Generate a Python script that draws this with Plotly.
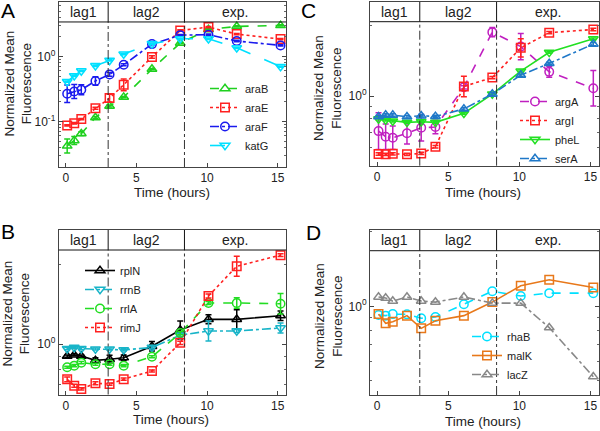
import numpy as np
import plotly.graph_objects as go

FONT = "Liberation Sans, Arial, Helvetica, sans-serif"
TXT = "#222222"

# ---------------- data ----------------
time_h = [0.1, 0.6, 1.1, 2.1, 3.1, 4.1, 6.1, 8.1, 10.1, 12.1, 15.2]
phase_bounds = [3.0, 8.4]
phase_labels = ["lag1", "lag2", "exp."]
phase_label_pos = [1.25, 5.7, 12.0]

# Panel A
araB = [0.042, 0.051, 0.065, 0.115, 0.173, 0.237, 0.64, 1.61, 2.6, 2.9, 3.0]
araE = [0.087, 0.094, 0.109, 0.16, 0.229, 0.367, 0.98, 2.51, 2.83, 2.21, 1.85]
araF = [0.267, 0.29, 0.307, 0.42, 0.53, 0.745, 1.55, 2.13, 2.16, 1.73, 1.48]
katG = [0.41, 0.505, 0.6, 0.72, 0.87, 1.09, 1.57, 1.87, 1.87, 1.36, 0.70]
araB_err = [0.108, 0.06, 0.03, 0.015, 0.015, 0.01, 0.01, 0.01, 0.01, 0.01, 0.01]
araE_err = [0.01, 0.01, 0.01, 0.015, 0.06, 0.09, 0.02, 0.01, 0.01, 0.01, 0.01]
araF_err = [0.135, 0.108, 0.077, 0.066, 0.03, 0.015, 0.01, 0.01, 0.01, 0.01, 0.01]
katG_err = [0.01, 0.01, 0.01, 0.01, 0.01, 0.01, 0.01, 0.01, 0.01, 0.01, 0.01]

# Panel B
rplN = [0.90, 0.91, 0.90, 0.867, 0.875, 0.887, 0.98, 1.13, 1.24, 1.24, 1.28]
rrnB = [0.96, 0.97, 0.96, 0.957, 0.957, 0.95, 0.97, 1.08, 1.12, 1.12, 1.15]
rrlA = [0.816, 0.828, 0.85, 0.838, 0.838, 0.828, 0.895, 1.10, 1.43, 1.43, 1.42]
rimJ = [0.735, 0.695, 0.676, 0.71, 0.705, 0.736, 0.79, 1.01, 1.52, 1.97, 2.17]
rplN_err = [0.004, 0.004, 0.004, 0.01, 0.015, 0.01, 0.018, 0.034, 0.017, 0.036, 0.018]
rrnB_err = [0.004, 0.004, 0.004, 0.004, 0.004, 0.004, 0.006, 0.006, 0.038, 0.006, 0.019]
rrlA_err = [0.004, 0.004, 0.004, 0.004, 0.004, 0.004, 0.004, 0.006, 0.006, 0.02, 0.039]
rimJ_err = [0.009, 0.006, 0.004, 0.006, 0.004, 0.004, 0.004, 0.006, 0.008, 0.038, 0.005]

# Panel C
argA = [0.707, 0.669, 0.662, 0.692, 0.731, 0.736, 1.09, 1.88, 1.63, 1.27, 1.08]
argI = [0.564, 0.562, 0.565, 0.562, 0.567, 0.606, 1.10, 1.20, 1.61, 1.87, 1.93]
pheL = [0.797, 0.789, 0.781, 0.771, 0.776, 0.771, 0.843, 1.02, 1.28, 1.54, 1.76]
serA = [0.815, 0.829, 0.829, 0.815, 0.823, 0.818, 0.88, 1.02, 1.23, 1.38, 1.67]
argA_err = [0.079, 0.055, 0.05, 0.046, 0.057, 0.029, 0.007, 0.02, 0.056, 0.023, 0.076]
argI_err = [0.005, 0.005, 0.005, 0.005, 0.005, 0.005, 0.044, 0.005, 0.039, 0.005, 0.005]
pheL_err = [0.004, 0.004, 0.004, 0.004, 0.004, 0.004, 0.004, 0.004, 0.004, 0.004, 0.004]
serA_err = [0.005, 0.005, 0.005, 0.005, 0.005, 0.005, 0.005, 0.005, 0.005, 0.005, 0.007]

# Panel D
rhaB = [0.923, 0.917, 0.93, 0.928, 0.895, 0.905, 1.02, 1.15, 1.10, 1.13, 1.13]
malK = [0.93, 0.854, 0.867, 0.917, 0.815, 0.875, 0.917, 1.04, 1.21, 1.28, 1.19]
lacZ = [1.09, 1.08, 1.05, 1.09, 1.05, 1.04, 1.09, 1.03, 1.03, 0.82, 0.52]

W, H = 600, 431


def px(x):
    return x / W


def py(y):
    return 1 - y / H


# panel geometry (window pixels) and axis ranges
panels = {
    "A": dict(ax="", xd=(58.7, 286.2), yd=(2, 167), yr=(-1.70, 0.838), hf=0.879,
              yt=[0.1, 1], ytt=["10<sup>-1</sup>", "10<sup>0</sup>"],
              letter=(8, 10), ytitle=(17.5, 84), xtitle=(172, 193),
              legend="legend", leg=(205, 74)),
    "C": dict(ax="2", xd=(370, 599), yd=(2, 165.7), yr=(-0.299, 0.4036), hf=0.8797,
              yt=[1], ytt=["10<sup>0</sup>"],
              letter=(308, 10), ytitle=(327, 88), xtitle=(482.5, 193),
              legend="legend2", leg=(515, 87)),
    "B": dict(ax="3", xd=(58.7, 286.2), yd=(230, 394.5), yr=(-0.1913, 0.4318), hf=0.8784,
              yt=[1], ytt=["10<sup>0</sup>"],
              letter=(8, 231), ytitle=(15.5, 314), xtitle=(171, 419),
              legend="legend3", leg=(80, 256)),
    "D": dict(ax="4", xd=(370, 599), yd=(230, 395), yr=(-0.3577, 0.3077), hf=0.8745,
              yt=[1], ytt=["10<sup>0</sup>"],
              letter=(313.7, 232), ytitle=(328, 316), xtitle=(482.5, 421),
              legend="legend4", leg=(467, 322)),
}

series = {
    "A": [
        ("araB", araB, araB_err, "#1fd01f", "dash", "triangle-up-open"),
        ("araE", araE, araE_err, "#ff2020", "dot", "square-open"),
        ("araF", araF, araF_err, "#1a1aee", "dashdot", "circle-open"),
        ("katG", katG, katG_err, "#00e0ff", "longdash", "triangle-down-open"),
    ],
    "B": [
        ("rplN", rplN, rplN_err, "#000000", "solid", "triangle-up-open"),
        ("rrnB", rrnB, rrnB_err, "#18b4c8", "dashdot", "triangle-down-open"),
        ("rrlA", rrlA, rrlA_err, "#22dd22", "dash", "circle-open"),
        ("rimJ", rimJ, rimJ_err, "#ff2020", "dot", "square-open"),
    ],
    "C": [
        ("argA", argA, argA_err, "#c020c0", "dash", "circle-open"),
        ("argI", argI, argI_err, "#ff2020", "dot", "square-open"),
        ("pheL", pheL, pheL_err, "#22e022", "solid", "triangle-down-open"),
        ("serA", serA, serA_err, "#1f78c8", "dashdot", "triangle-up-open"),
    ],
    "D": [
        ("rhaB", rhaB, None, "#00e0ff", "dash", "circle-open"),
        ("malK", malK, None, "#e8781a", "solid", "square-open"),
        ("lacZ", lacZ, None, "#888888", "dashdot", "triangle-up-open"),
    ],
}

fig = go.Figure()
layout = dict(width=W, height=H, margin=dict(l=0, r=0, t=0, b=0),
              paper_bgcolor="white", plot_bgcolor="white",
              font=dict(family=FONT, color=TXT, size=12), showlegend=True)
shapes = []
annotations = []

minor_vals = [v * 10.0 ** e for e in (-2, -1, 0) for v in range(2, 10)]

for key, p in panels.items():
    ax = p["ax"]
    xname, yname = "x" + ax, "y" + ax
    for name, vals, err, col, dash, sym in series[key]:
        ekw = {}
        if err is not None:
            ya = np.array(vals)
            ea = np.array(err)
            ekw = dict(error_y=dict(type="data", symmetric=False,
                                    array=ya * (10 ** ea - 1),
                                    arrayminus=ya * (1 - 10 ** (-ea)),
                                    color=col, thickness=1.5, width=3))
        fig.add_trace(go.Scatter(
            x=time_h, y=vals, name=name, mode="lines+markers",
            xaxis=xname, yaxis=yname, legend=p["legend"],
            line=dict(color=col, width=1.6, dash=dash),
            marker=dict(symbol=sym, size=8.5, color=col, line=dict(width=1.5, color=col)),
            **ekw))

    layout["xaxis" + ax] = dict(
        domain=[px(p["xd"][0]), px(p["xd"][1])], anchor=yname,
        range=[-0.5, 15.6], tickvals=[0, 5, 10, 15], ticks="inside", ticklen=4,
        tickcolor="#444", showline=True, linecolor="#444", linewidth=1, mirror=True,
        showgrid=False, zeroline=False, tickfont=dict(size=12, family=FONT, color=TXT))
    layout["yaxis" + ax] = dict(
        domain=[py(p["yd"][1]), py(p["yd"][0])], anchor=xname, type="log",
        range=list(p["yr"]), tickvals=p["yt"], ticktext=p["ytt"], ticks="inside",
        ticklen=4, tickcolor="#444", showline=True, linecolor="#444", linewidth=1,
        mirror="ticks", showgrid=False, zeroline=False,
        tickfont=dict(size=12, family=FONT, color=TXT),
        minor=dict(tickvals=minor_vals, ticks="inside", ticklen=2, tickcolor="#666"))

    hf = p["hf"]
    shapes.append(dict(type="line", xref=xname + " domain", yref=yname + " domain",
                       x0=0, x1=1, y0=hf, y1=hf, line=dict(color="#111", width=1)))
    for xb in phase_bounds:
        shapes.append(dict(type="line", xref=xname, yref=yname + " domain",
                           x0=xb, x1=xb, y0=hf, y1=1, line=dict(color="#111", width=1)))
        shapes.append(dict(type="line", xref=xname, yref=yname + " domain",
                           x0=xb, x1=xb, y0=0, y1=hf,
                           line=dict(color="#333", width=1, dash="dashdot")))
    for lab, xp in zip(phase_labels, phase_label_pos):
        annotations.append(dict(text=lab, xref=xname, yref=yname + " domain",
                                x=xp, y=(1 + hf) / 2, showarrow=False,
                                xanchor="center", yanchor="middle",
                                font=dict(size=14, family=FONT, color=TXT)))
    # panel letter
    annotations.append(dict(text=key, xref="paper", yref="paper",
                            x=px(p["letter"][0]), y=py(p["letter"][1]), showarrow=False,
                            xanchor="center", yanchor="middle",
                            font=dict(size=21, family=FONT, color="#000")))
    # axis titles
    annotations.append(dict(text="Normalized Mean<br>Fluorescence", xref="paper", yref="paper",
                            x=px(p["ytitle"][0]), y=py(p["ytitle"][1]), showarrow=False,
                            textangle=-90, xanchor="center", yanchor="middle",
                            font=dict(size=13.5, family=FONT, color=TXT)))
    annotations.append(dict(text="Time (hours)", xref="paper", yref="paper",
                            x=px(p["xtitle"][0]), y=py(p["xtitle"][1]), showarrow=False,
                            xanchor="center", yanchor="middle",
                            font=dict(size=13.5, family=FONT, color=TXT)))
    layout[p["legend"]] = dict(x=px(p["leg"][0]), y=py(p["leg"][1]),
                               xanchor="left", yanchor="top", bgcolor="rgba(0,0,0,0)",
                               borderwidth=0, font=dict(size=11, family=FONT, color=TXT),
                               itemclick=False)

layout["shapes"] = shapes
layout["annotations"] = annotations
fig.update_layout(**layout)
# remove the browser's default 8px body margin so the 600x431 figure fills the window
fig.write_html("out.html",
               config={"displayModeBar": False},
               post_script="document.body.style.margin='0';document.body.style.overflow='hidden';")
